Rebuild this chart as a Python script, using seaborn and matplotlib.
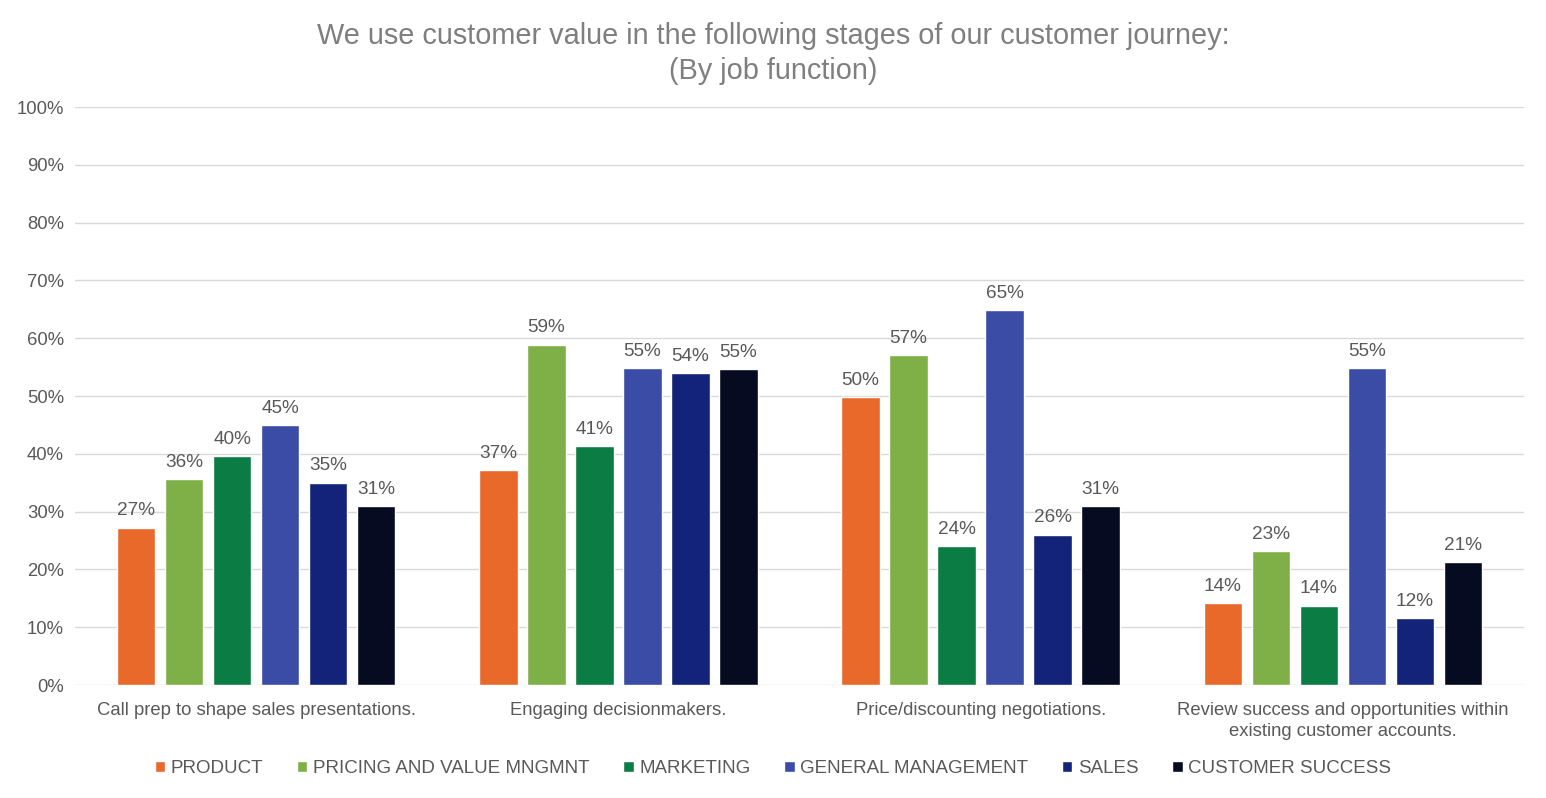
import matplotlib
matplotlib.use("Agg")
import matplotlib.pyplot as plt
import seaborn as sns
import pandas as pd
from matplotlib.ticker import PercentFormatter

categories = [
    "Call prep to shape sales presentations.",
    "Engaging decisionmakers.",
    "Price/discounting negotiations.",
    "Review success and opportunities within\nexisting customer accounts.",
]
series = ["PRODUCT", "PRICING AND VALUE MNGMNT", "MARKETING",
          "GENERAL MANAGEMENT", "SALES", "CUSTOMER SUCCESS"]
product = [27.2, 37.2, 49.8, 14.2]
pricing = [35.6, 58.9, 57.1, 23.2]
marketing = [39.6, 41.3, 24.0, 13.7]
general_mgmt = [44.9, 54.8, 64.9, 54.8]
sales = [35.0, 53.9, 26.0, 11.6]
customer_success = [30.9, 54.7, 30.9, 21.3]
colors = ["#E8692A", "#7FAF47", "#0B7D44", "#3A4CA6", "#13237A", "#060B22"]

values = [product, pricing, marketing, general_mgmt, sales, customer_success]
rows = []
for s, vals in zip(series, values):
    for c, v in zip(categories, vals):
        rows.append({"stage": c, "function": s, "value": v})
df = pd.DataFrame(rows)

sns.set_theme(style="white")
plt.rcParams["font.family"] = ["Liberation Sans", "DejaVu Sans"]

fig = plt.figure(figsize=(15.46, 7.98), dpi=100)
ax = fig.add_axes([0.0485, 0.1416, 0.9373, 0.7243])

sns.barplot(data=df, x="stage", y="value", hue="function", order=categories,
            hue_order=series, palette=colors, width=0.795, gap=0.2,
            saturation=1, ax=ax, legend=True)

gray = "#595959"
for cont in ax.containers:
    ax.bar_label(cont, labels=[f"{round(b.get_height()):.0f}%" for b in cont],
                 padding=6, fontsize=13.7, color=gray)

ax.set_ylim(0, 100)
ax.set_xlim(-0.5, 3.5)
ax.set_yticks(range(0, 101, 10))
ax.yaxis.set_major_formatter(PercentFormatter(decimals=0))
ax.grid(axis="y", color="#D9D9D9", linewidth=1)
ax.set_axisbelow(True)
for sp in ax.spines.values():
    sp.set_visible(False)
ax.tick_params(axis="both", length=0, labelsize=13.3, colors=gray)
ax.tick_params(axis="x", pad=12)
ax.tick_params(axis="y", pad=8)
ax.set_xlabel("")
ax.set_ylabel("")
for t in ax.get_xticklabels():
    t.set_linespacing(1.35)

handles, labels = ax.get_legend_handles_labels()
ax.get_legend().remove()
fig.legend(handles, labels, loc="center", bbox_to_anchor=(0.5, 0.037), ncol=6,
           frameon=False, fontsize=13.5, labelcolor=gray, handlelength=0.55,
           handleheight=0.55, handletextpad=0.3, columnspacing=1.8)

fig.suptitle("We use customer value in the following stages of our customer journey:\n(By job function)",
             y=0.972, fontsize=20.8, color="#7F7F7F", linespacing=1.3)

fig.savefig("out.png", dpi=100, facecolor="white")
